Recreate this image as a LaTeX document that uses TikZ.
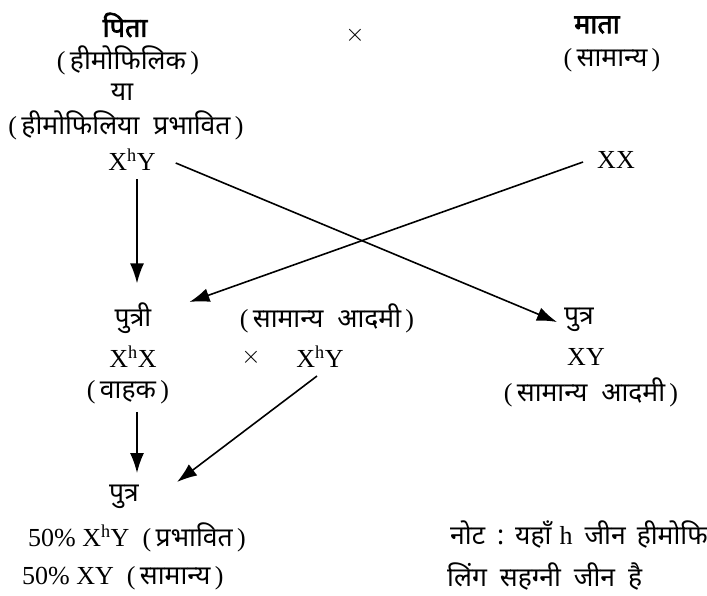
\documentclass[tikz,border=0pt]{standalone}
\usepackage{fontspec}
\setmainfont{Liberation Serif}
\newfontfamily\dev[Script=Devanagari]{Noto Sans}
\newfontfamily\devb[Script=Devanagari,FakeBold=2.5]{Noto Sans}
\usetikzlibrary{arrows.meta,calc}
\newcommand\dv[1]{{\dev\fontsize{26.5}{31}\selectfont #1}}
\newcommand\dvb[1]{{\devb\fontsize{27}{31}\selectfont #1}}
\newcommand\pr[1]{(\,\dv{#1}\,)}
\tikzset{
  lat/.style={font=\fontsize{26}{30}\selectfont, inner sep=0pt},
  arr/.style={-{Latex[length=20pt,width=14pt]}, line width=1.6pt},
}
\begin{document}
\begin{tikzpicture}[x=1pt,y=-1pt]
\useasboundingbox (0,0) rectangle (707,595);
\clip (0,0) rectangle (707,595);
% parents
\node[lat] (pita) at (125,25) {\dvb{पिता}};
\node[lat] (hemo) at (128,60) {\pr{हीमोफिलिक}};
\node[lat] (ya) at (122,92) {\dv{या}};
\node[lat] (aff) at (126,125) {\pr{हीमोफिलिया\ \ प्रभावित}};
\node[lat] (fxy) at (132,160) {X\textsuperscript{h}Y};
\node[lat] (cross1) at (355,35) {$\times$};
\node[lat] (mata) at (597,25) {\dvb{माता}};
\node[lat] (norm) at (612,60) {\pr{सामान्य}};
\node[lat] (mxx) at (616,160) {XX};
% F1
\node[lat] (putri) at (133,318) {\dv{पुत्री}};
\node[lat] (dxx) at (133,357) {X\textsuperscript{h}X};
\node[lat] (carrier) at (128,392) {\pr{वाहक}};
\node[lat] (nm1) at (327,318) {\pr{सामान्य\ \ आदमी}};
\node[lat] (cross2) at (251,357) {$\times$};
\node[lat] (mxy) at (320,357) {X\textsuperscript{h}Y};
\node[lat] (son1) at (579,320) {\dv{पुत्र}};
\node[lat] (sxy) at (586,357) {XY};
\node[lat] (nm2) at (591,392) {\pr{सामान्य\ \ आदमी}};
% F2
\node[lat] (son2) at (124,497) {\dv{पुत्र}};
\node[lat, anchor=west] (r1) at (28,537) {50\% X\textsuperscript{h}Y\ \ \pr{प्रभावित}};
\node[lat, anchor=west] (r2) at (22,578) {50\% XY\ \ \pr{सामान्य}};
% note
\node[lat, anchor=west] (note1) at (450,535) {\dv{नोट\hspace{12pt}:\hspace{11pt}यहाँ}\hspace{8pt}h\hspace{12pt}\dv{जीन\hspace{11pt}हीमोफि}};
\node[lat, anchor=west] (note2) at (447,577) {\dv{लिंग\hspace{13pt}सहग्नी\hspace{13pt}जीन\hspace{13pt}है}};
% connectors
\draw[arr] ($(fxy.south)+(5,8)$) -- ($(putri.north)+(4,-19)$);
\draw[arr] ($(fxy.east)+(20,3)$) -- ($(son1.west)+(-7,2)$);
\draw[arr] ($(mxx.west)+(-14,2)$) -- ($(putri.east)+(38,-16)$);
\draw[arr] ($(carrier.south)+(9,8)$) -- ($(son2.north)+(13,-12)$);
\draw[arr] ($(mxy.south)+(-3,8)$) -- ($(son2.east)+(38,-15)$);
\end{tikzpicture}
\end{document}
